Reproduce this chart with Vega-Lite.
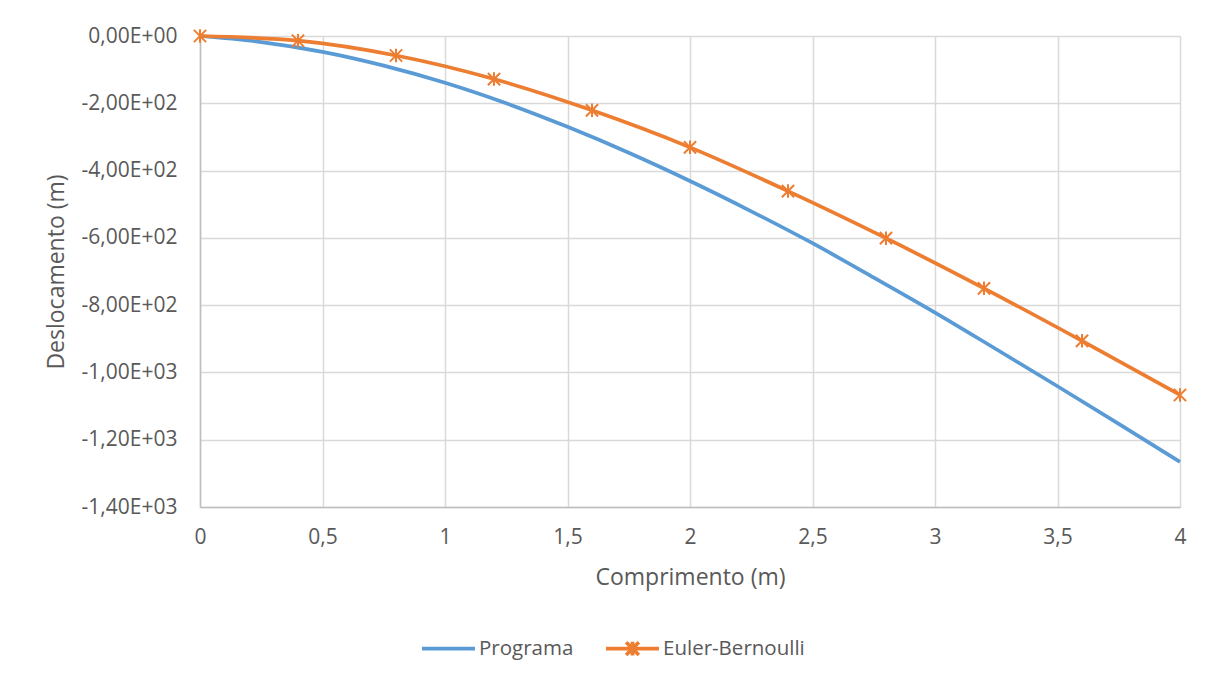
{
  "$schema": "https://vega.github.io/schema/vega-lite/v6.json",
  "autosize": {"type": "none"},
  "width": 980,
  "height": 471,
  "padding": {"left": 200, "top": 36, "right": 34, "bottom": 175},
  "background": "white",
  "config": {
    "view": {"stroke": null},
    "font": "Open Sans",
    "axis": {
      "labelFont": "Open Sans",
      "labelFontSize": 21,
      "labelColor": "#595959",
      "titleFont": "Open Sans",
      "titleFontSize": 23,
      "titleFontWeight": "normal",
      "titleColor": "#595959",
      "gridColor": "#d9d9d9",
      "gridWidth": 1.5,
      "domainColor": "#bfbfbf",
      "domainWidth": 1.5,
      "ticks": false,
      "tickSize": 0
    },
    "legend": {
      "labelFont": "Open Sans",
      "labelFontSize": 20.5,
      "labelColor": "#595959"
    }
  },
  "data": {
    "values": [
      {"serie": "Programa", "x": 0, "y": 0},
      {"serie": "Programa", "x": 0.25, "y": -18},
      {"serie": "Programa", "x": 0.5, "y": -47},
      {"serie": "Programa", "x": 0.75, "y": -88},
      {"serie": "Programa", "x": 1, "y": -139},
      {"serie": "Programa", "x": 1.25, "y": -200},
      {"serie": "Programa", "x": 1.5, "y": -270},
      {"serie": "Programa", "x": 1.75, "y": -347},
      {"serie": "Programa", "x": 2, "y": -431},
      {"serie": "Programa", "x": 2.25, "y": -521},
      {"serie": "Programa", "x": 2.5, "y": -616},
      {"serie": "Programa", "x": 2.75, "y": -718},
      {"serie": "Programa", "x": 3, "y": -822},
      {"serie": "Programa", "x": 3.25, "y": -931},
      {"serie": "Programa", "x": 3.5, "y": -1041},
      {"serie": "Programa", "x": 3.75, "y": -1153},
      {"serie": "Programa", "x": 4, "y": -1266},
      {"serie": "Euler-Bernoulli", "x": 0, "y": 0},
      {"serie": "Euler-Bernoulli", "x": 0.4, "y": -14},
      {"serie": "Euler-Bernoulli", "x": 0.8, "y": -58},
      {"serie": "Euler-Bernoulli", "x": 1.2, "y": -128},
      {"serie": "Euler-Bernoulli", "x": 1.6, "y": -221},
      {"serie": "Euler-Bernoulli", "x": 2, "y": -331},
      {"serie": "Euler-Bernoulli", "x": 2.4, "y": -461},
      {"serie": "Euler-Bernoulli", "x": 2.8, "y": -601},
      {"serie": "Euler-Bernoulli", "x": 3.2, "y": -750},
      {"serie": "Euler-Bernoulli", "x": 3.6, "y": -906},
      {"serie": "Euler-Bernoulli", "x": 4, "y": -1067}
    ]
  },
  "encoding": {
    "x": {
      "field": "x",
      "type": "quantitative",
      "scale": {"domain": [0, 4], "nice": false, "zero": false},
      "axis": {
        "title": "Comprimento (m)",
        "values": [0, 0.5, 1, 1.5, 2, 2.5, 3, 3.5, 4],
        "labelExpr": "replace(format(datum.value, '~g'), '.', ',')",
        "labelPadding": 19,
        "titlePadding": 19,
        "labelFlush": false
      }
    },
    "y": {
      "field": "y",
      "type": "quantitative",
      "scale": {"domain": [-1400, 0], "nice": false},
      "axis": {
        "title": "Deslocamento (m)",
        "values": [-1400, -1200, -1000, -800, -600, -400, -200, 0],
        "labelExpr": "datum.value == 0 ? '0,00E+00' : (datum.value < 0 ? '-' : '') + replace(format(abs(datum.value) / pow(10, floor(log(abs(datum.value)) / LN10 + 1e-9)), '.2f'), '.', ',') + 'E+0' + floor(log(abs(datum.value)) / LN10 + 1e-9)",
        "labelPadding": 23,
        "titlePadding": 13,
        "labelFlush": false
      }
    }
  },
  "layer": [
    {
      "mark": {"type": "line", "strokeWidth": 3.7, "interpolate": "monotone"},
      "encoding": {
        "color": {
          "field": "serie",
          "type": "nominal",
          "scale": {"domain": ["Programa", "Euler-Bernoulli"], "range": ["#5B9BD5", "#ED7D31"]},
          "legend": {
            "title": null,
            "orient": "none",
            "direction": "horizontal",
            "legendX": 220,
            "legendY": 584,
            "symbolSize": 2809,
            "symbolStrokeWidth": 3.7,
            "labelOffset": 2,
            "columnPadding": 24,
            "encode": {
              "symbols": {
                "update": {
                  "shape": {"signal": "datum.value === 'Euler-Bernoulli' ? 'M-1,0L1,0M-0.24,-0.24L0.24,0.24M-0.24,0.24L0.24,-0.24M0,-0.26L0,0.26' : 'M-1,0L1,0M0,-0.26L0,-0.26M0,0.26L0,0.26'"},
                  "fill": {"value": "transparent"}
                }
              }
            }
          }
        },
        "order": {"field": "x", "type": "quantitative"}
      }
    },
    {
      "transform": [{"filter": "datum.serie === 'Euler-Bernoulli'"}],
      "mark": {
        "type": "point",
        "shape": "M-1,-1L1,1M-1,1L1,-1M0,-1.1L0,1.1",
        "filled": false,
        "stroke": "#ED7D31",
        "strokeWidth": 2,
        "size": 150,
        "opacity": 1
      }
    }
  ]
}
